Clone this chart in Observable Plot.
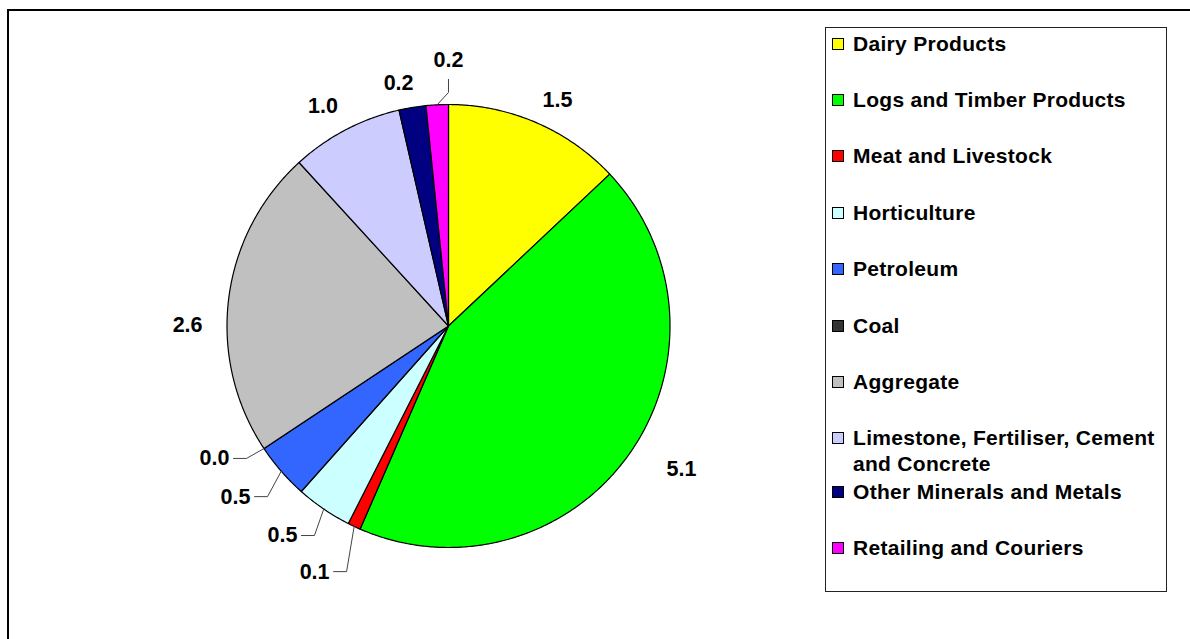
<!DOCTYPE html>
<html>
<head>
<meta charset="utf-8">
<script src="https://cdn.jsdelivr.net/npm/d3@7"></script>
<script src="https://cdn.jsdelivr.net/npm/@observablehq/plot@0.6"></script>
<style>
html,body{margin:0;padding:0;background:#fff;overflow:hidden;width:1190px;height:639px}
#chart{position:absolute;left:0;top:0}
#frame{position:absolute;left:7px;top:9px;width:1300px;height:800px;border:2px solid #000;box-sizing:border-box;pointer-events:none}
#legend{position:absolute;left:825px;top:27px;width:342px;height:565px;border:1px solid #222;box-sizing:border-box;background:#fff;
  font-family:"Liberation Sans",Arial,sans-serif;font-weight:bold;font-size:21px;letter-spacing:0.3px;color:#000}
.item{position:absolute;left:27px;line-height:26px;white-space:nowrap}
.sw{position:absolute;left:-21px;top:7px;width:12px;height:12px;border:1px solid #000;box-sizing:border-box}
</style>
</head>
<body>
<div id="chart"></div>
<div id="frame"></div>
<div id="legend"></div>
<script>
// ---- data ----
const categories = ["Dairy Products","Logs and Timber Products","Meat and Livestock","Horticulture","Petroleum","Coal","Aggregate","Limestone, Fertiliser, Cement and Concrete","Other Minerals and Metals","Retailing and Couriers"];
const values = [1.52, 5.10, 0.11, 0.48, 0.48, 0.0, 2.64, 0.96, 0.23, 0.19];
const colors = ["#FFFF00","#00FF00","#FF0000","#CCFFFF","#3366FF","#333333","#C0C0C0","#CCCCFF","#000080","#FF00FF"];

// ---- layout ----
const W = 1190, H = 639;
const cx = 448, cy = 325.5, R = 221.5;
const labelShift = [2.43, -3.53, 3.39, 4.12, 2.26, 4.08, -6.9, -2.04, -2.23, 2.92]; // degrees from slice mid-angle
const labelRadius = [1.131, 1.235, 1.263, 1.207, 1.232, 1.214, 1.178, 1.144, 1.12, 1.199];
const leaderType = ["none","none","left","left","left","left","none","none","none","up"];
const legendTops = [2.5, 58.9, 115.3, 171.7, 228.1, 284.5, 340.9, 397.3, 450.5, 507.2];

const arcs = d3.pie().sort(null).value(d => d)(values);
const pt = (a, r) => [r * Math.sin(a), -r * Math.cos(a)];

const slicePts = [];
arcs.forEach((a, i) => {
  const key = categories[i];
  slicePts.push({key, x: 0, y: 0});
  const n = Math.max(2, Math.ceil((a.endAngle - a.startAngle) / (Math.PI / 360)));
  for (let k = 0; k <= n; k++) {
    const t = a.startAngle + (a.endAngle - a.startAngle) * k / n;
    const [x, y] = pt(t, R);
    slicePts.push({key, x, y});
  }
  slicePts.push({key, x: 0, y: 0});
});

const labelData = [];
const leaderPts = [];
arcs.forEach((a, i) => {
  const mid = (a.startAngle + a.endAngle) / 2;
  const la = mid + labelShift[i] * Math.PI / 180;
  const [tx, ty] = pt(la, R * labelRadius[i]);
  labelData.push({x: tx, y: ty, text: values[i].toFixed(1)});
  const [ax, ay] = pt(mid, R);
  if (leaderType[i] === "left") {
    leaderPts.push({k: i, x: ax, y: ay}, {k: i, x: tx + 32, y: ty}, {k: i, x: tx + 19, y: ty});
  } else if (leaderType[i] === "up") {
    leaderPts.push({k: i, x: ax, y: ay}, {k: i, x: tx, y: ty + 32}, {k: i, x: tx, y: ty + 19});
  }
});

const chart = Plot.plot({
  width: W, height: H, margin: 0,
  style: {background: "transparent", overflow: "visible"},
  x: {domain: [-cx, W - cx], range: [0, W], axis: null},
  y: {domain: [-cy, H - cy], range: [0, H], axis: null},
  color: {domain: categories, range: colors},
  marks: [
    Plot.line(slicePts, {x: "x", y: "y", z: "key", fill: "key", stroke: "#000", strokeWidth: 1.2, strokeLinejoin: "round", curve: "linear"}),
    Plot.line(leaderPts, {x: "x", y: "y", z: "k", stroke: "#444", strokeWidth: 1, curve: "linear"}),
    Plot.text(labelData, {x: "x", y: "y", text: "text", fontSize: 21.5, fontWeight: "bold", fontFamily: "Liberation Sans, Arial, sans-serif", fill: "#000"})
  ]
});
document.getElementById("chart").appendChild(chart);

// legend
const lg = document.getElementById("legend");
categories.forEach((c, i) => {
  const it = document.createElement("div");
  it.className = "item";
  it.style.top = legendTops[i] + "px";
  const sw = document.createElement("div");
  sw.className = "sw";
  sw.style.background = colors[i];
  it.appendChild(sw);
  const parts = c === "Limestone, Fertiliser, Cement and Concrete" ? ["Limestone, Fertiliser, Cement", "and Concrete"] : [c];
  parts.forEach((p, j) => {
    if (j) it.appendChild(document.createElement("br"));
    it.appendChild(document.createTextNode(p));
  });
  lg.appendChild(it);
});
</script>
</body>
</html>
